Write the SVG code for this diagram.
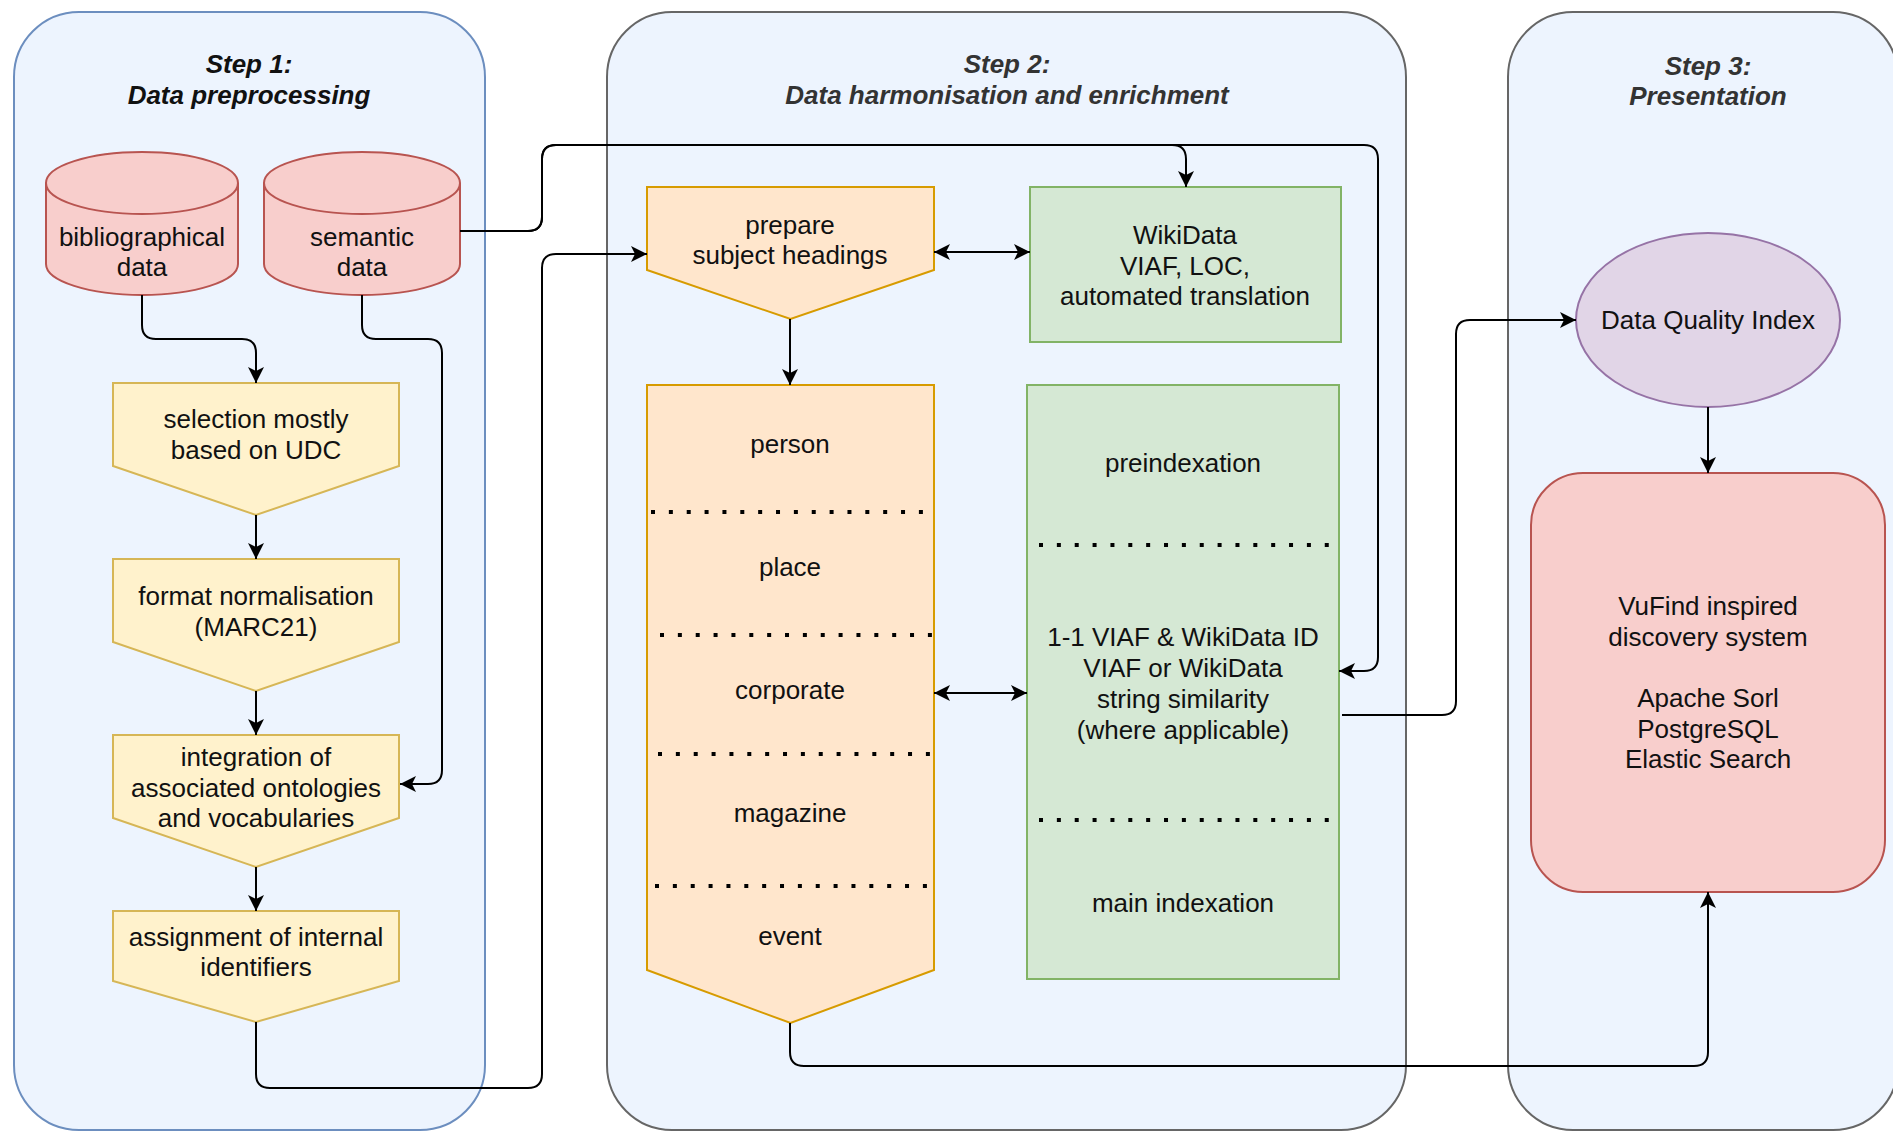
<svg xmlns="http://www.w3.org/2000/svg" width="1893" height="1133" viewBox="0 0 1893 1133">
<defs>
<style>
.step{fill:#EDF4FE;stroke-width:2}
.title{font-family:"Liberation Sans",Arial,sans-serif;font-size:26px;font-weight:bold;font-style:italic;text-anchor:middle}
.t{font-family:"Liberation Sans",Arial,sans-serif;font-size:26px;fill:#111;text-anchor:middle;dominant-baseline:central}
.db{fill:#f8cecc;stroke:#b85450;stroke-width:2}
.yel{fill:#fff2cc;stroke:#d6b656;stroke-width:2}
.org{fill:#ffe6cc;stroke:#d79b00;stroke-width:2}
.grn{fill:#d5e8d4;stroke:#82b366;stroke-width:2}
.pur{fill:#e1d5e7;stroke:#9673a6;stroke-width:2}
.red{fill:#f8cecc;stroke:#b85450;stroke-width:2}
.dots{stroke:#000;stroke-width:4;stroke-dasharray:4 13.86;fill:none}
.edge{fill:none;stroke:#000;stroke-width:2}
.arr{marker-end:url(#ah)}
.both{marker-start:url(#ah);marker-end:url(#ah)}
</style>
<marker id="ah" markerUnits="userSpaceOnUse" markerWidth="18" markerHeight="18" refX="16" refY="8" orient="auto-start-reverse">
<path d="M0,0 L16,8 L0,16 L4,8 Z" fill="#000"/>
</marker>
</defs>

<g id="containers">
<g id="step1">
<rect class="step" x="14" y="12" width="471" height="1118" rx="65" ry="65" stroke="#6c8ebf"/>
<text class="title" x="249" y="73" fill="#111">Step 1:</text>
<text class="title" x="249" y="104" fill="#111">Data preprocessing</text>
</g>
<g id="step2">
<rect class="step" x="607" y="12" width="799" height="1118" rx="65" ry="65" stroke="#666"/>
<text class="title" x="1007" y="73" fill="#333">Step 2:</text>
<text class="title" x="1007" y="104" fill="#333">Data harmonisation and enrichment</text>
</g>
<g id="step3">
<rect class="step" x="1508" y="12" width="390" height="1118" rx="65" ry="65" stroke="#666"/>
<text class="title" x="1708" y="75" fill="#333">Step 3:</text>
<text class="title" x="1708" y="105" fill="#333">Presentation</text>
</g>
</g>

<g id="nodes">
<g id="bibliographical-data">
<path class="db" d="M46,183 A96,31 0 0 1 238,183 V264 A96,31 0 0 1 46,264 Z"/>
<path class="db" d="M46,183 A96,31 0 0 0 238,183" fill="none"/>
<text class="t" x="142" y="237">bibliographical</text>
<text class="t" x="142" y="267">data</text>
</g>
<g id="semantic-data">
<path class="db" d="M264,183 A98,31 0 0 1 460,183 V264 A98,31 0 0 1 264,264 Z"/>
<path class="db" d="M264,183 A98,31 0 0 0 460,183" fill="none"/>
<text class="t" x="362" y="237">semantic</text>
<text class="t" x="362" y="267">data</text>
</g>
<g id="selection">
<path class="yel" d="M113,383 H399 V466 L256,515 L113,466 Z"/>
<text class="t" x="256" y="419">selection mostly</text>
<text class="t" x="256" y="450">based on UDC</text>
</g>
<g id="format">
<path class="yel" d="M113,559 H399 V642 L256,691 L113,642 Z"/>
<text class="t" x="256" y="596">format normalisation</text>
<text class="t" x="256" y="627">(MARC21)</text>
</g>
<g id="integration">
<path class="yel" d="M113,735 H399 V818 L256,867 L113,818 Z"/>
<text class="t" x="256" y="757">integration of</text>
<text class="t" x="256" y="788">associated ontologies</text>
<text class="t" x="256" y="818">and vocabularies</text>
</g>
<g id="assignment">
<path class="yel" d="M113,911 H399 V981 L256,1022 L113,981 Z"/>
<text class="t" x="256" y="937">assignment of internal</text>
<text class="t" x="256" y="967">identifiers</text>
</g>
<g id="prepare">
<path class="org" d="M647,187 H934 V270 L790.5,319 L647,270 Z"/>
<text class="t" x="790" y="225">prepare</text>
<text class="t" x="790" y="255">subject headings</text>
</g>
<g id="wikidata">
<rect class="grn" x="1030" y="187" width="311" height="155"/>
<text class="t" x="1185" y="235">WikiData</text>
<text class="t" x="1185" y="266">VIAF, LOC,</text>
<text class="t" x="1185" y="296">automated translation</text>
</g>
<g id="entities">
<path class="org" d="M647,385 H934 V970 L790.5,1023 L647,970 Z"/>
<path class="dots" d="M651,512 H923 M660,635 H932 M658,754 H930 M655,886 H927"/>
<text class="t" x="790" y="444">person</text>
<text class="t" x="790" y="567">place</text>
<text class="t" x="790" y="690">corporate</text>
<text class="t" x="790" y="813">magazine</text>
<text class="t" x="790" y="936">event</text>
</g>
<g id="indexation">
<rect class="grn" x="1027" y="385" width="312" height="594"/>
<path class="dots" d="M1039,545 H1329 M1039,820 H1329"/>
<text class="t" x="1183" y="463">preindexation</text>
<text class="t" x="1183" y="637">1-1 VIAF &amp; WikiData ID</text>
<text class="t" x="1183" y="668">VIAF or WikiData</text>
<text class="t" x="1183" y="699">string similarity</text>
<text class="t" x="1183" y="730">(where applicable)</text>
<text class="t" x="1183" y="903">main indexation</text>
</g>
<g id="data-quality-index">
<ellipse class="pur" cx="1708" cy="320" rx="132" ry="87"/>
<text class="t" x="1708" y="320">Data Quality Index</text>
</g>
<g id="vufind">
<rect class="red" x="1531" y="473" width="354" height="419" rx="52" ry="52"/>
<text class="t" x="1708" y="606">VuFind inspired</text>
<text class="t" x="1708" y="637">discovery system</text>
<text class="t" x="1708" y="698">Apache Sorl</text>
<text class="t" x="1708" y="729">PostgreSQL</text>
<text class="t" x="1708" y="759">Elastic Search</text>
</g>
</g>

<g id="connectors">
<path class="edge arr" d="M142,295 V325 Q142,339 156,339 H242 Q256,339 256,353 V383"/>
<path class="edge arr" d="M362,295 V325 Q362,339 376,339 H428 Q442,339 442,353 V770 Q442,784 428,784 H400"/>
<path class="edge arr" d="M256,515 V559"/>
<path class="edge arr" d="M256,691 V735"/>
<path class="edge arr" d="M256,867 V911"/>
<path class="edge arr" d="M256,1022 V1074 Q256,1088 270,1088 H528 Q542,1088 542,1074 V268 Q542,254 556,254 H647"/>
<path class="edge arr" d="M460,231 H528 Q542,231 542,217 V159 Q542,145 556,145 H1172 Q1186,145 1186,159 V187"/>
<path class="edge arr" d="M460,231 H528 Q542,231 542,217 V159 Q542,145 556,145 H1364 Q1378,145 1378,159 V657 Q1378,671 1364,671 H1339"/>
<path class="edge both" d="M934,252 H1030"/>
<path class="edge arr" d="M790,319 V385"/>
<path class="edge both" d="M934,693 H1027"/>
<path class="edge arr" d="M1342,715 H1442 Q1456,715 1456,701 V334 Q1456,320 1470,320 H1576"/>
<path class="edge arr" d="M1708,407 V473"/>
<path class="edge arr" d="M790,1023 V1052 Q790,1066 804,1066 H1694 Q1708,1066 1708,1052 V892"/>
</g>
</svg>
